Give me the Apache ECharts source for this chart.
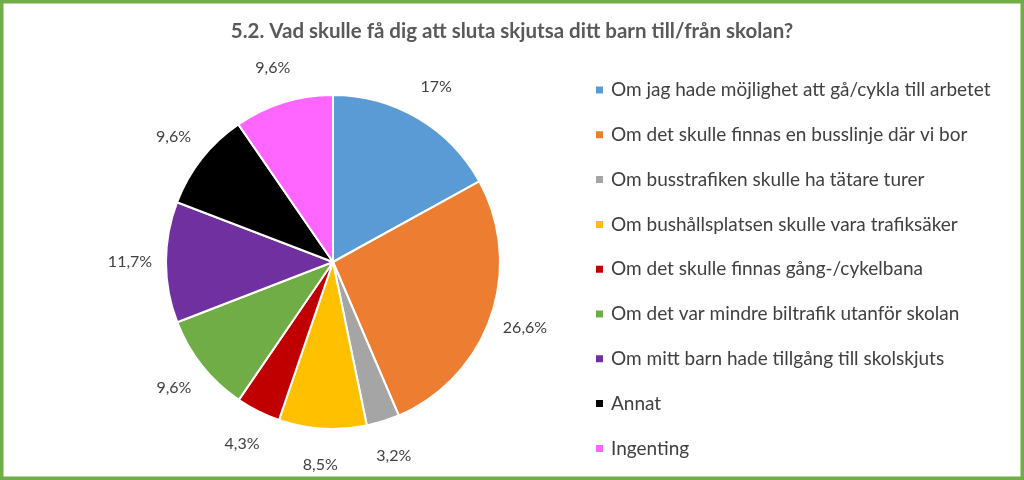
<!DOCTYPE html>
<html>
<head>
<meta charset="utf-8">
<script src="https://cdn.jsdelivr.net/npm/echarts@6/dist/echarts.min.js"></script>
<style>
html,body{margin:0;padding:0;background:#fff;}
#c{width:1024px;height:480px;}
</style>
</head>
<body>
<div id="c"></div>
<script>
const titleText = '5.2. Vad skulle få dig att sluta skjutsa ditt barn till/från skolan?';
const categories = [
  'Om jag hade möjlighet att gå/cykla till arbetet',
  'Om det skulle finnas en busslinje där vi bor',
  'Om busstrafiken skulle ha tätare turer',
  'Om bushållsplatsen skulle vara trafiksäker',
  'Om det skulle finnas gång-/cykelbana',
  'Om det var mindre biltrafik utanför skolan',
  'Om mitt barn hade tillgång till skolskjuts',
  'Annat',
  'Ingenting'
];
const values = [17, 26.6, 3.2, 8.5, 4.3, 9.6, 11.7, 9.6, 9.6];
const colors = ['#5B9BD5', '#ED7D31', '#A5A5A5', '#FFC000', '#C00000', '#70AD47', '#7030A0', '#000000', '#FF66FF'];

const font = 'Lato, "Open Sans", sans-serif';
const pieData = categories.map((n, i) => ({ name: n, value: values[i], itemStyle: { color: colors[i] } }));
const labelData = categories.map((n, i) => ({ name: n, value: values[i] }));

const chart = echarts.init(document.getElementById('c'), null, { renderer: 'canvas' });
chart.setOption({
  animation: false,
  backgroundColor: '#fff',
  title: {
    text: titleText,
    left: 'center',
    top: 16,
    textStyle: { fontFamily: font, fontSize: 20.5, fontWeight: 'bold', color: '#595959' }
  },
  legend: {
    orient: 'vertical',
    left: 589,
    top: 75,
    icon: 'rect',
    itemWidth: 9,
    itemHeight: 9,
    itemGap: 24.8,
    data: categories,
    textStyle: { fontFamily: font, fontSize: 19, color: '#404040', lineHeight: 20, padding: [0, 0, 0, 2] }
  },
  graphic: [{
    type: 'rect',
    shape: { x: 1.75, y: 1.75, width: 1020.5, height: 476.5 },
    style: { fill: 'none', stroke: '#70AD47', lineWidth: 3.5 },
    silent: true,
    z: 100
  }],
  series: [
    {
      type: 'pie',
      center: [333, 262],
      radius: [0, 167],
      startAngle: 90,
      clockwise: true,
      avoidLabelOverlap: false,
      itemStyle: { borderColor: '#fff', borderWidth: 2 },
      label: { show: false },
      labelLine: { show: false },
      emphasis: { disabled: true },
      data: pieData
    },
    {
      type: 'pie',
      center: [333, 262],
      radius: [167, 233],
      startAngle: 90,
      clockwise: true,
      silent: true,
      avoidLabelOverlap: false,
      legendHoverLink: false,
      itemStyle: { color: 'rgba(0,0,0,0)', borderWidth: 0 },
      label: {
        show: true,
        position: 'inside',
        fontFamily: font,
        fontSize: 16,
        color: '#404040',
        formatter: p => String(p.value).replace('.', ',') + '%'
      },
      labelLine: { show: false },
      emphasis: { disabled: true },
      data: labelData
    }
  ]
});
</script>
</body>
</html>
